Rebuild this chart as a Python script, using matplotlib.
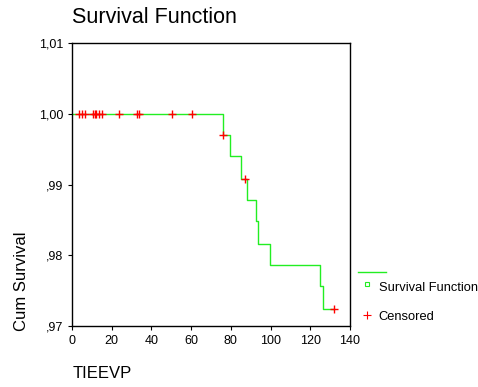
import matplotlib
matplotlib.use("Agg")
import matplotlib.pyplot as plt
from matplotlib.lines import Line2D
from matplotlib.ticker import FuncFormatter

plt.rcParams['font.family'] = ['Liberation Sans', 'DejaVu Sans']

# step function: event times and survival after each event
step_time = [0, 75.9, 79.7, 84.9, 88.0, 92.8, 93.8, 99.5, 124.9, 126.6, 131.6]
step_surv = [1.0, 0.99696, 0.99396, 0.99076, 0.98781, 0.98481, 0.98161, 0.97861, 0.97567, 0.97243, 0.97243]

# censored observations
cens_time = [3.5, 5.0, 6.7, 10.7, 11.4, 12.1, 13.7, 15.3, 23.8, 32.9, 33.7, 50.6, 60.6,
             75.9, 87.1, 131.8]
cens_surv = [1.0] * 13 + [0.99696, 0.99076, 0.97243]

green = '#22ee22'

fig = plt.figure(figsize=(4.78, 3.87), dpi=100)
ax = fig.add_axes([0.1506, 0.1576, 0.5816, 0.7313])

ax.step(step_time, step_surv, where='post', color=green, lw=1.0)
ax.scatter(cens_time, cens_surv, marker='+', color='red', s=30, lw=1.0, zorder=3)

ax.set_xlim(0, 140)
ax.set_ylim(0.97, 1.01)
ax.set_xticks(range(0, 141, 20))
ax.set_yticks([0.97, 0.98, 0.99, 1.00, 1.01])


def comma_fmt(v, pos):
    s = '%.2f' % v
    s = s.replace('.', ',')
    if s.startswith('0'):
        s = s[1:]
    return s


ax.yaxis.set_major_formatter(FuncFormatter(comma_fmt))
ax.tick_params(direction='out', length=3, labelsize=9, width=0.8)
for sp in ax.spines.values():
    sp.set_linewidth(1.0)

fig.text(0.151, 0.955, 'Survival Function', fontsize=15.5, ha='left', va='center')
fig.text(0.046, 0.274, 'Cum Survival', fontsize=12, rotation=90, ha='center', va='center')
fig.text(0.151, 0.036, 'TIEEVP', fontsize=12, ha='left', va='center')

# legend drawn outside the axes
fig.add_artist(Line2D([0.749, 0.808], [0.297, 0.297], color=green, lw=1.0))
fig.add_artist(Line2D([0.768], [0.266], marker='s', markersize=3, markerfacecolor='none',
                      markeredgecolor=green, markeredgewidth=0.8, linestyle='none'))
fig.text(0.792, 0.256, 'Survival Function', fontsize=9.3, ha='left', va='center')
fig.add_artist(Line2D([0.768], [0.186], marker='+', markersize=6, color='red',
                      markeredgewidth=0.8, linestyle='none'))
fig.text(0.792, 0.181, 'Censored', fontsize=9.3, ha='left', va='center')

fig.savefig('out.png', dpi=100)
